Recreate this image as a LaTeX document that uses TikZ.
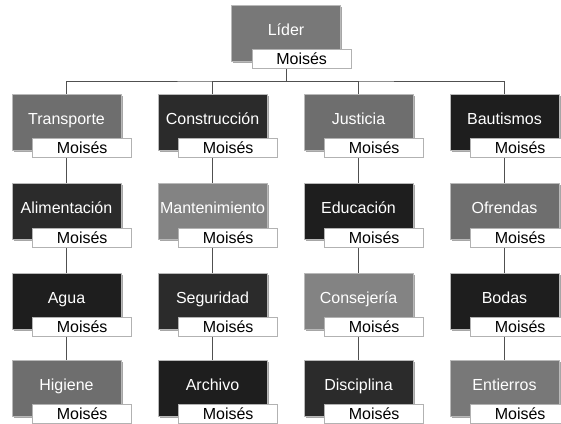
\documentclass[tikz,border=0pt]{standalone}
\usepackage{fontspec}
\setmainfont{Liberation Sans}
\usetikzlibrary{shadows}
\definecolor{gmid}{HTML}{6E6E6E}
\definecolor{glight}{HTML}{838383}
\definecolor{gdark}{HTML}{2B2B2B}
\definecolor{gblack}{HTML}{1E1E1E}
\definecolor{glead}{HTML}{787878}
\definecolor{conn}{HTML}{505050}
\tikzset{
  box/.style={draw=gray!55, line width=0.7pt, minimum width=109pt, minimum height=56pt,
    inner sep=0pt, text=white, font=\fontsize{16}{19}\selectfont, text height=12pt, text depth=8pt,
    general shadow={fill=black!35, shadow xshift=1.5pt, shadow yshift=-1.5pt}},
  tag/.style={draw=gray!60, fill=white, line width=0.6pt, minimum width=99pt, minimum height=19pt,
    inner sep=0pt, text=black, font=\fontsize{16}{19}\selectfont},
  link/.style={draw=conn, line width=0.9pt}
}
\newcommand{\unit}[5]{%
  \node[box, fill=#4] (#1) at (#2,#3) {#5};
  \node[tag] (#1t) at ([xshift=70.5pt, yshift=2.5pt]#1.south west) {Moisés};
}
\begin{document}
\begin{tikzpicture}[x=1pt, y=-1pt]
\useasboundingbox (0,0) rectangle (561,423);
\coordinate (bus) at (286,81);
% connectors
\draw[link] (286,33) -- (bus);
\draw[link] (66.5,122) |- (bus) -| (504.5,122);
\draw[link] (212.5,122) |- (bus);
\draw[link] (358.5,122) |- (bus);
\foreach \x in {66.5,212.5,358.5,504.5}{\draw[link] (\x,122) -- (\x,388);}
% boxes
\unit{L}{286}{33}{glead}{Líder}
\unit{A1}{66.5}{122}{gmid}{Transporte}
\unit{B1}{212.5}{122}{gdark}{Construcción}
\unit{C1}{358.5}{122}{gmid}{Justicia}
\unit{D1}{504.5}{122}{gblack}{Bautismos}
\unit{A2}{66.5}{211.5}{gdark}{Alimentación}
\unit{B2}{212.5}{211.5}{glight}{Mantenimiento}
\unit{C2}{358.5}{211.5}{gblack}{Educación}
\unit{D2}{504.5}{211.5}{gmid}{Ofrendas}
\unit{A3}{66.5}{301}{gblack}{Agua}
\unit{B3}{212.5}{301}{gdark}{Seguridad}
\unit{C3}{358.5}{301}{glight}{Consejería}
\unit{D3}{504.5}{301}{gblack}{Bodas}
\unit{A4}{66.5}{388}{gmid}{Higiene}
\unit{B4}{212.5}{388}{gblack}{Archivo}
\unit{C4}{358.5}{388}{gdark}{Disciplina}
\unit{D4}{504.5}{388}{glead}{Entierros}
\end{tikzpicture}
\end{document}
